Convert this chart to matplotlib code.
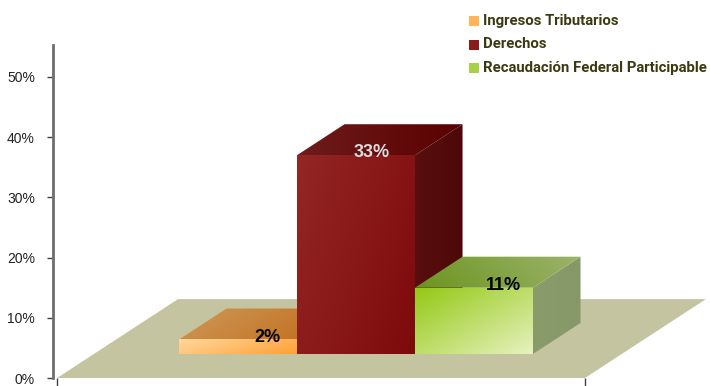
import numpy as np
import matplotlib.pyplot as plt
from matplotlib.patches import Polygon, Rectangle
from matplotlib.colors import to_rgb

# Datos
categorias = ['Ingresos Tributarios', 'Derechos', 'Recaudación Federal Participable']
valores = [2.4, 33, 11]
yticks = [0, 10, 20, 30, 40, 50]
ytick_labels = ['0%', '10%', '20%', '30%', '40%', '50%']

# Estilos de cada barra: (frente, arriba, lado) como degradados
estilos = [
    {'front': ('#ffd89e', '#ffa033', (1, -0.4)), 'top': ('#cf9a5c', '#bf6a14', (1, -0.3)),
     'side': ('#b86a20', '#a05a10', (1, 0))},
    {'front': ('#942626', '#7e0a0a', (1, -0.5)), 'top': ('#6e1c1c', '#5a0000', (1, 0)),
     'side': ('#5a0e0e', '#4c0808', (1, 0))},
    {'front': ('#94c814', '#e6f2be', (1, -1)), 'top': ('#6c9420', '#9cb46a', (1, 0.2)),
     'side': ('#8a9c6a', '#869868', (1, 0))},
]
legend_colors = ['#ffb45a', '#8b1a1a', '#a8d048']
label_colors = ['black', '#dcdcdc', 'black']
label_dx = [0.25, 0.13, 0.25]

# Perspectiva
DX, DZ = 1.025, 13.1
BAR_D0, BAR_D1 = 0.305, 0.698
FLOOR_X = (-1.221, 3.253)


def proj(x, z, d):
    return (x + (d - BAR_D0) * DX, z + d * DZ)


def grad_poly(ax, verts, c1, c2, direction, zorder):
    verts = np.array(verts)
    x0, y0 = verts.min(0)
    x1, y1 = verts.max(0)
    n = 80
    u, v = np.meshgrid(np.linspace(0, 1, n), np.linspace(0, 1, n))
    t = u * direction[0] + v * direction[1]
    t = (t - t.min()) / (t.max() - t.min())
    a, b = np.array(to_rgb(c1)), np.array(to_rgb(c2))
    img = a + (b - a) * t[..., None]
    poly = Polygon(verts, closed=True, facecolor='none', edgecolor='none')
    ax.add_patch(poly)
    im = ax.imshow(img, extent=(x0, x1, y0, y1), origin='lower', aspect='auto',
                   zorder=zorder, interpolation='bilinear')
    im.set_clip_path(poly)


fig = plt.figure(figsize=(7.1, 3.86), dpi=100)
ax = fig.add_axes([53 / 710, 8 / 386, 657 / 710, 333 / 386])

# Piso
fl, fr = FLOOR_X
piso = [proj(fl, 0, 0), proj(fr, 0, 0), proj(fr, 0, 1), proj(fl, 0, 1)]
ax.add_patch(Polygon(piso, closed=True, facecolor='#c4c5a0', edgecolor='none', zorder=1))

z = 2
for i, (h, st) in enumerate(zip(valores, estilos)):
    xl, xr = i - 0.5, i + 0.5
    side = [proj(xr, 0, BAR_D0), proj(xr, 0, BAR_D1), proj(xr, h, BAR_D1), proj(xr, h, BAR_D0)]
    top = [proj(xl, h, BAR_D0), proj(xr, h, BAR_D0), proj(xr, h, BAR_D1), proj(xl, h, BAR_D1)]
    front = [proj(xl, 0, BAR_D0), proj(xr, 0, BAR_D0), proj(xr, h, BAR_D0), proj(xl, h, BAR_D0)]
    for face, key in [(side, 'side'), (top, 'top'), (front, 'front')]:
        c1, c2, dr = st[key]
        grad_poly(ax, face, c1, c2, dr, z)
        z += 1
    lx, ly = proj(i + label_dx[i], h, BAR_D0)
    ax.text(lx, ly + 0.4, f'{h:.0f}%', ha='center', va='center', fontsize=13,
            fontweight='bold', color=label_colors[i], family='Liberation Sans', zorder=50)

# Ejes
ax.set_xlim(-1.568, 4.0)
ax.set_ylim(0, 55.3)
ax.set_yticks(yticks)
ax.set_yticklabels(ytick_labels, family='Liberation Sans', fontsize=10, color='#222222')
ax.tick_params(axis='y', direction='out', length=4, width=1, color='#404040', pad=9)
ax.set_xticks([-1.53, proj(fr, 0, 0)[0]])
ax.set_xticklabels(['', ''])
ax.tick_params(axis='x', direction='out', length=6, width=1, color='#404040')
for s in ['top', 'right', 'bottom']:
    ax.spines[s].set_visible(False)
ax.spines['left'].set_color('#6e6e6e')
ax.spines['left'].set_linewidth(2)
ax.set_facecolor('white')

# Leyenda (texto ajustado al ancho disponible)
textos = []
for i, (nombre, col) in enumerate(zip(categorias, legend_colors)):
    yc = 386 - (21 + 23.5 * i)
    fig.patches.append(Rectangle((469 / 710, (yc - 5) / 386), 10 / 710, 10 / 386,
                                 transform=fig.transFigure, facecolor=col, edgecolor='none'))
    textos.append(fig.text(483 / 710, yc / 386, nombre, ha='left', va='center', fontsize=11,
                           fontweight='bold', color='#3a3a12', family='Roboto'))

renderer = fig.canvas.get_renderer()
ancho = max(t.get_window_extent(renderer).width for t in textos)
if ancho > 224:
    for t in textos:
        t.set_fontsize(11 * 224 / ancho)

fig.savefig('out.png', dpi=100)
